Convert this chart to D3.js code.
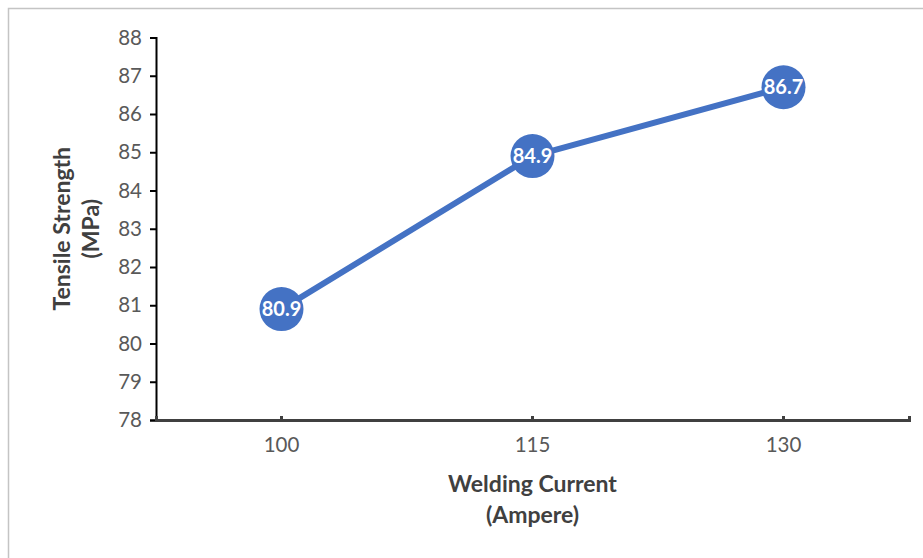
<!DOCTYPE html>
<html>
<head>
<meta charset="utf-8">
<script src="https://cdn.jsdelivr.net/npm/d3@7"></script>
<style>
  html, body { margin: 0; padding: 0; background: #fff; }
  svg { display: block; }
  text { font-family: Lato, "Open Sans", sans-serif; }
</style>
</head>
<body>
<svg id="chart" width="923" height="558"></svg>
<script>
// Welding current (A) vs. tensile strength (MPa)
const categories = ["100", "115", "130"];
const strength = [80.9, 84.9, 86.7];
const yTicks = [78, 79, 80, 81, 82, 83, 84, 85, 86, 87, 88];

const W = 923, H = 558;
const plot = { left: 156, right: 909, top: 37.5, bottom: 420 };

const svg = d3.select("#chart");

// chart frame
svg.append("rect")
  .attr("x", 8.5).attr("y", 8.5)
  .attr("width", W + 10).attr("height", H + 10)
  .attr("fill", "#fff")
  .attr("stroke", "#c4c4c4").attr("stroke-width", 1.5);

const x = d3.scaleBand()
  .domain(categories)
  .range([plot.left, plot.right])
  .padding(0);

const y = d3.scaleLinear()
  .domain([78, 88])
  .range([plot.bottom, plot.top]);

// y axis
const yAxis = svg.append("g")
  .attr("transform", `translate(${plot.left},0)`)
  .call(d3.axisLeft(y).tickValues(yTicks).tickSize(6).tickPadding(8).tickFormat(d3.format("d")));
yAxis.select(".domain").attr("stroke", "#000").attr("stroke-width", 2);
yAxis.selectAll(".tick line").attr("stroke", "#000").attr("stroke-width", 2);
yAxis.selectAll(".tick text")
  .attr("fill", "#595959").attr("font-size", 20.5);

// x axis
const xAxis = svg.append("g")
  .attr("transform", `translate(0,${plot.bottom})`)
  .call(d3.axisBottom(x).tickSize(-4).tickSizeOuter(-4).tickPadding(17));
xAxis.select(".domain").attr("stroke", "#404040").attr("stroke-width", 3);
xAxis.selectAll(".tick line").attr("stroke", "#404040").attr("stroke-width", 3);
xAxis.selectAll(".tick text")
  .attr("fill", "#595959").attr("font-size", 20.5);

// axis titles
const yTitle = svg.append("text")
  .attr("transform", `translate(62,${(plot.top + plot.bottom) / 2}) rotate(-90)`)
  .attr("text-anchor", "middle")
  .attr("fill", "#404040").attr("font-weight", "bold").attr("font-size", 23);
yTitle.append("tspan").attr("x", 0).attr("dy", "0.35em").text("Tensile Strength");
yTitle.append("tspan").attr("x", 0).attr("dy", 29).text("(MPa)");

const xTitle = svg.append("text")
  .attr("transform", `translate(${(plot.left + plot.right) / 2},484)`)
  .attr("text-anchor", "middle")
  .attr("fill", "#404040").attr("font-weight", "bold").attr("font-size", 23);
xTitle.append("tspan").attr("x", 0).attr("dy", "0.35em").text("Welding Current");
xTitle.append("tspan").attr("x", 0).attr("dy", 31).text("(Ampere)");

// series
const pts = categories.map((c, i) => ({ c, v: strength[i] }));
const cx = d => x(d.c) + x.bandwidth() / 2;

svg.append("path")
  .datum(pts)
  .attr("fill", "none")
  .attr("stroke", "#4472C4")
  .attr("stroke-width", 6)
  .attr("stroke-linejoin", "round")
  .attr("d", d3.line().x(cx).y(d => y(d.v)));

svg.selectAll("circle.pt")
  .data(pts)
  .join("circle")
  .attr("class", "pt")
  .attr("cx", cx)
  .attr("cy", d => y(d.v))
  .attr("r", 22)
  .attr("fill", "#4472C4");

svg.selectAll("text.lbl")
  .data(pts)
  .join("text")
  .attr("class", "lbl")
  .attr("x", cx)
  .attr("y", d => y(d.v))
  .attr("dy", "0.36em")
  .attr("text-anchor", "middle")
  .attr("fill", "#fff")
  .attr("font-weight", "bold")
  .attr("font-size", 20)
  .text(d => d.v.toFixed(1));
</script>
</body>
</html>
